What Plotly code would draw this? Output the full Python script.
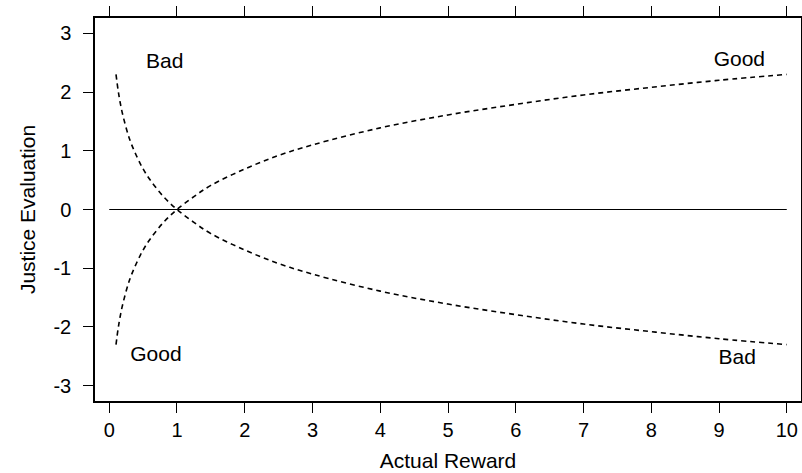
import plotly.graph_objects as go

# Values
reward = [0.1, 0.13, 0.16, 0.2, 0.3, 0.4, 0.5, 0.6, 0.8, 1.0, 1.25, 1.5, 2.0, 2.5, 3.0, 4.0, 5.0, 6.0, 7.0, 8.0, 9.0, 10.0]
good_eval = [-2.30, -2.04, -1.83, -1.61, -1.20, -0.92, -0.69, -0.51, -0.22, 0.0, 0.22, 0.41, 0.69, 0.92, 1.10, 1.39, 1.61, 1.79, 1.95, 2.08, 2.20, 2.30]
bad_eval = [2.30, 2.04, 1.83, 1.61, 1.20, 0.92, 0.69, 0.51, 0.22, 0.0, -0.22, -0.41, -0.69, -0.92, -1.10, -1.39, -1.61, -1.79, -1.95, -2.08, -2.20, -2.30]
zero_x = [0, 10]
zero_y = [0, 0]
x_ticks = [0, 1, 2, 3, 4, 5, 6, 7, 8, 9, 10]
y_ticks = [-3, -2, -1, 0, 1, 2, 3]
y_ticktext = ["-3", "-2", "-1", "0", "1", "2", "3"]
labels = ["Bad", "Good", "Good", "Bad"]
label_x = [0.82, 9.3, 0.69, 9.27]
label_y = [2.5, 2.54, -2.49, -2.54]

font = "Liberation Sans, Arial, Helvetica, sans-serif"
fig = go.Figure()
fig.add_trace(go.Scatter(x=zero_x, y=zero_y, mode="lines",
                         line=dict(color="black", width=1.2), showlegend=False))
fig.add_trace(go.Scatter(x=reward, y=good_eval, mode="lines",
                         line=dict(color="black", width=1.6, dash="5px,4px", shape="spline"),
                         showlegend=False))
fig.add_trace(go.Scatter(x=reward, y=bad_eval, mode="lines",
                         line=dict(color="black", width=1.6, dash="5px,4px", shape="spline"),
                         showlegend=False))
fig.add_trace(go.Scatter(x=label_x, y=label_y, mode="text", text=labels,
                         textfont=dict(family=font, size=21, color="black"),
                         showlegend=False))

fig.update_layout(
    width=802, height=473,
    margin=dict(l=95, r=1, t=18, b=72, autoexpand=False),
    paper_bgcolor="white", plot_bgcolor="white",
    font=dict(family=font, size=20, color="black"),
    xaxis=dict(range=[-0.21, 10.21], tickvals=x_ticks, ticks="outside", ticklen=10,
               tickcolor="black", showline=True, linecolor="black", linewidth=1.5,
               mirror="ticks", showgrid=False, zeroline=False,
               tickfont=dict(size=20),
               title=dict(text="Actual Reward", standoff=14, font=dict(size=21))),
    yaxis=dict(range=[-3.26, 3.26], tickvals=y_ticks, ticktext=y_ticktext,
               ticks="outside", ticklen=10,
               tickcolor="black", showline=True, linecolor="black", linewidth=1.5,
               mirror=True, showgrid=False, zeroline=False, ticklabelstandoff=8,
               tickfont=dict(size=20),
               title=dict(text="Justice Evaluation", standoff=12, font=dict(size=21))),
)
fig.write_html("out.html", config={"displayModeBar": False},
               post_script="document.body.style.margin='0';document.body.style.overflow='hidden';")
